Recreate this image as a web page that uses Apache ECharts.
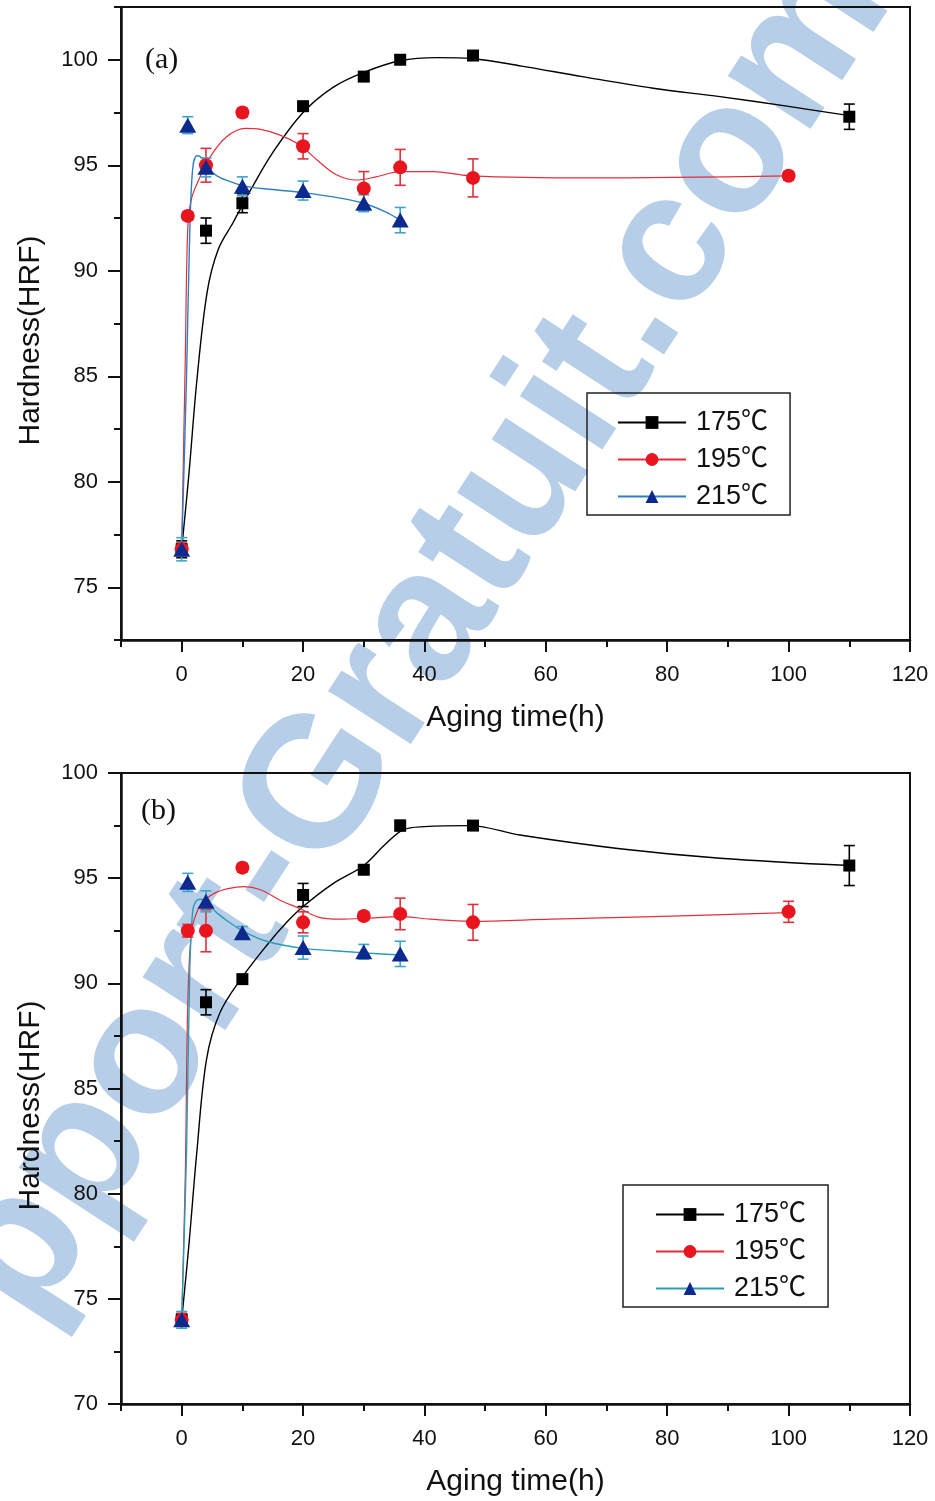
<!DOCTYPE html>
<html>
<head>
<meta charset="utf-8">
<script src="https://cdn.jsdelivr.net/npm/echarts@6/dist/echarts.min.js"></script>
<style>
  html, body { margin: 0; padding: 0; background: #fff; }
  #chart { width: 935px; height: 1501px; }
</style>
</head>
<body>
<div id="chart"></div>
<script>
// ---- Aging times (h) for each temperature ----
const time175 = [0, 4, 10, 20, 30, 36, 48, 110];
const time195 = [0, 1, 4, 10, 20, 30, 36, 48, 100];
const time215 = [0, 1, 4, 10, 20, 30, 36];

// ---- Panel (a): measured hardness (HRF) and error half-widths ----
const hard175a = [76.8, 91.9, 93.2, 97.8, 99.2, 100.0, 100.2, 97.3];
const err175a  = [0.4, 0.6, 0.45, 0.2, 0.2, 0.2, 0.15, 0.6];
const hard195a = [76.8, 92.6, 95.0, 97.5, 95.9, 93.9, 94.9, 94.4, 94.5];
const err195a  = [0.3, 0.2, 0.8, 0.2, 0.6, 0.8, 0.85, 0.9, 0.2];
const hard215a = [76.8, 96.9, 94.9, 94.0, 93.8, 93.2, 92.4];
const err215a  = [0.55, 0.4, 0.45, 0.45, 0.45, 0.4, 0.6];

// ---- Panel (b): measured hardness (HRF) and error half-widths ----
const hard175b = [74.0, 89.1, 90.2, 94.2, 95.4, 97.5, 97.5, 95.6];
const err175b  = [0.3, 0.6, 0.2, 0.55, 0.2, 0.25, 0.15, 0.95];
const hard195b = [74.0, 92.5, 92.5, 95.5, 92.9, 93.2, 93.3, 92.9, 93.4];
const err195b  = [0.3, 0.3, 1.0, 0.2, 0.5, 0.2, 0.75, 0.85, 0.5];
const hard215b = [74.0, 94.8, 93.9, 92.4, 91.7, 91.5, 91.4];
const err215b  = [0.4, 0.43, 0.5, 0.3, 0.55, 0.35, 0.6];

// ---- Fitted trend curves, [time, hardness] read at selected times ----
const trend175a = [[0,76.8],[1.2,80.4],[2.5,84.8],[4.2,89.0],[6,91.0],[8.5,92.3],[11.5,93.9],[15,95.6],[20,97.5],[25,98.7],[30,99.4],[36,99.95],[42,100.1],[48,100.05],[56,99.7],[66,99.2],[77.7,98.65],[88.7,98.25],[99.7,97.8],[110,97.35]];
const trend195a = [[0,76.8],[0.6,86.0],[1.0,92.0],[1.6,93.4],[2.8,94.3],[4.7,95.4],[7.4,96.35],[10.5,96.75],[13,96.7],[16,96.45],[19.5,95.95],[22.5,95.2],[25.5,94.55],[28.8,94.3],[32,94.45],[36,94.7],[41.4,94.7],[47.5,94.5],[66.7,94.4],[100,94.5]];
const trend215a = [[0,76.8],[0.8,85.0],[1.3,91.5],[1.8,94.8],[2.5,95.45],[3.3,95.35],[4.2,94.9],[5.8,94.5],[7.8,94.25],[10.5,94.0],[15,93.85],[20,93.7],[25,93.5],[30,93.2],[33.5,92.8],[36,92.4]];

const trend175b = [[0,74.0],[1.2,77.6],[2.5,82.0],[4.1,86.4],[6.3,88.6],[10,90.3],[14,91.8],[17.3,92.9],[20,93.65],[25,94.75],[30,95.6],[33.5,96.6],[36.5,97.3],[40,97.45],[47.5,97.5],[55.7,97.05],[72.2,96.4],[88.7,95.95],[110,95.6]];
const trend195b = [[0,74.0],[0.6,81.0],[1.0,89.0],[1.6,92.4],[2.6,93.45],[4,94.0],[5.5,94.3],[7.6,94.5],[10.2,94.6],[13,94.45],[16.2,93.95],[19.5,93.55],[22.5,93.15],[26,93.05],[31,93.1],[36,93.17],[41,93.05],[47.5,92.95],[61,93.05],[77.7,93.17],[100,93.36]];
const trend215b = [[0,74.0],[0.8,82.0],[1.3,90.2],[1.8,93.4],[2.5,93.95],[3.3,94.0],[4.2,93.8],[5.8,93.35],[7.6,92.95],[10,92.5],[14,92.0],[20,91.66],[25,91.55],[30,91.45],[36,91.35]];

// ---- Axis ticks ----
const xMajor = [0, 20, 40, 60, 80, 100, 120];
const xMinor = [-10, 10, 30, 50, 70, 90, 110];
const yMajorA = [75, 80, 85, 90, 95, 100];
const yMinorA = [72.5, 77.5, 82.5, 87.5, 92.5, 97.5, 102.5];
const yMajorB = [70, 75, 80, 85, 90, 95, 100];
const yMinorB = [72.5, 77.5, 82.5, 87.5, 92.5, 97.5];

const names = ['175℃', '195℃', '215℃'];
const SANS = "'Liberation Sans', Arial, 'Noto Sans CJK SC', sans-serif";
const INK = '#111';

const colors = {
  black: '#000000',
  red: '#e8141e',
  redLine: '#e0303c',
  navy: '#0c2a8e',
  blueLineA: '#2f7fc2',
  blueLineB: '#2b9cb8',
  blueErr: '#3aa6cc'
};

const panels = [
  { label: '(a)', top: 7, height: 633, yMin: 72.5, yMax: 102.5, yMajor: yMajorA, yMinor: yMinorA,
    h175: hard175a, e175: err175a, h195: hard195a, e195: err195a, h215: hard215a, e215: err215a,
    t175: trend175a, t195: trend195a, t215: trend215a, blueLine: colors.blueLineA,
    legend: { left: 587, top: 393, pad: [16, 22, 5, 30] } },
  { label: '(b)', top: 773, height: 631, yMin: 70, yMax: 100, yMajor: yMajorB, yMinor: yMinorB,
    h175: hard175b, e175: err175b, h195: hard195b, e195: err195b, h215: hard215b, e215: err215b,
    t175: trend175b, t195: trend195b, t215: trend215b, blueLine: colors.blueLineB,
    legend: { left: 623, top: 1185, pad: [16, 22, 5, 32] } }
];

const GRID_LEFT = 121, GRID_WIDTH = 789;

const grid = [], xAxis = [], yAxis = [], series = [], legend = [], graphic = [];

function pair(times, vals) { return times.map((t, i) => [t, vals[i]]); }

function errorBars(name, times, vals, errs, color, ai) {
  return {
    type: 'custom', name: name, xAxisIndex: ai, yAxisIndex: ai, z: 4,
    silent: true,
    data: times.map((t, i) => [t, vals[i] - errs[i], vals[i] + errs[i]]),
    encode: { x: 0, y: [1, 2] },
    renderItem: function (params, api) {
      const x = api.value(0);
      const lo = api.coord([x, api.value(1)]);
      const hi = api.coord([x, api.value(2)]);
      const w = 5.5;
      const style = { stroke: color, lineWidth: 1.6, fill: null };
      return {
        type: 'group',
        children: [
          { type: 'line', shape: { x1: lo[0], y1: lo[1], x2: hi[0], y2: hi[1] }, style: style },
          { type: 'line', shape: { x1: lo[0] - w, y1: lo[1], x2: lo[0] + w, y2: lo[1] }, style: style },
          { type: 'line', shape: { x1: hi[0] - w, y1: hi[1], x2: hi[0] + w, y2: hi[1] }, style: style }
        ]
      };
    }
  };
}

function trendLine(name, data, symbol, fill, stroke, width, ai) {
  return {
    type: 'line', name: name, xAxisIndex: ai, yAxisIndex: ai, z: 3,
    data: data, smooth: 0.35,
    showSymbol: false, symbol: symbol,
    itemStyle: { color: fill },
    lineStyle: { color: stroke, width: width },
    silent: true
  };
}

function markers(name, times, vals, symbol, size, color, ai) {
  return {
    type: 'scatter', name: name, xAxisIndex: ai, yAxisIndex: ai, z: 5,
    data: pair(times, vals), symbol: symbol, symbolSize: size,
    itemStyle: { color: color, opacity: 1 },
    silent: true
  };
}

panels.forEach((p, gi) => {
  grid.push({
    left: GRID_LEFT, top: p.top, width: GRID_WIDTH, height: p.height,
    show: true, borderColor: INK, borderWidth: 2, backgroundColor: 'transparent',
    outerBoundsMode: 'none'
  });
  const tickFont = { fontFamily: SANS, fontSize: 22, color: INK };
  // major x axis with labels
  xAxis.push({
    gridIndex: gi, type: 'value', position: 'bottom', min: -10, max: 120,
    axisLine: { show: true, onZero: false, lineStyle: { color: INK, width: 2.5 } },
    axisTick: { show: true, customValues: xMajor, length: 12, lineStyle: { color: INK, width: 2 } },
    axisLabel: { show: true, customValues: xMajor, margin: 24, ...tickFont },
    splitLine: { show: false }
  });
  // minor x ticks
  xAxis.push({
    gridIndex: gi, type: 'value', position: 'bottom', min: -10, max: 120,
    axisLine: { show: false, onZero: false },
    axisTick: { show: true, customValues: xMinor, length: 7, lineStyle: { color: INK, width: 2 } },
    axisLabel: { show: false },
    splitLine: { show: false }
  });
  yAxis.push({
    gridIndex: gi, type: 'value', position: 'left', min: p.yMin, max: p.yMax,
    axisLine: { show: true, onZero: false, lineStyle: { color: INK, width: 2.5 } },
    axisTick: { show: true, customValues: p.yMajor, length: 13, lineStyle: { color: INK, width: 2 } },
    axisLabel: { show: true, customValues: p.yMajor, margin: 23, ...tickFont },
    splitLine: { show: false }
  });
  yAxis.push({
    gridIndex: gi, type: 'value', position: 'left', min: p.yMin, max: p.yMax,
    axisLine: { show: false, onZero: false },
    axisTick: { show: true, customValues: p.yMinor, length: 7, lineStyle: { color: INK, width: 2 } },
    axisLabel: { show: false },
    splitLine: { show: false }
  });

  const ai = gi * 2;
  // trend curves first so the legend takes its icons from them
  series.push(trendLine(names[0], p.t175, 'rect', colors.black, colors.black, 1.4, ai));
  series.push(trendLine(names[1], p.t195, 'circle', colors.red, colors.redLine, 1.2, ai));
  series.push(trendLine(names[2], p.t215, 'triangle', colors.navy, p.blueLine, 1.4, ai));
  // error bars
  series.push(errorBars(names[0], time175, p.h175, p.e175, colors.black, ai));
  series.push(errorBars(names[1], time195, p.h195, p.e195, colors.redLine, ai));
  series.push(errorBars(names[2], time215, p.h215, p.e215, colors.blueErr, ai));
  // measured points
  series.push(markers(names[0], time175, p.h175, 'rect', 12, colors.black, ai));
  series.push(markers(names[1], time195, p.h195, 'circle', 14, colors.red, ai));
  series.push(markers(names[2], time215, p.h215, 'triangle', [17, 15], colors.navy, ai));

  legend.push({
    left: p.legend.left, top: p.legend.top, orient: 'vertical',
    data: [
      { name: names[0] },
      { name: names[1] },
      { name: names[2], lineStyle: { color: p.blueLine } }
    ],
    itemWidth: 68, itemHeight: 16, itemGap: 10,
    padding: p.legend.pad,
    borderColor: '#222', borderWidth: 1.5, borderRadius: 0,
    backgroundColor: 'rgba(255,255,255,0)',
    selectedMode: false,
    textStyle: { fontFamily: SANS, fontSize: 27, color: INK, padding: [0, 0, 0, 5] }
  });

  // panel tag
  graphic.push({
    type: 'text', left: gi === 0 ? 145 : 141, top: p.top + (gi === 0 ? 38 : 23), z: 10,
    style: { text: p.label, font: "30px 'Liberation Serif', 'Times New Roman', serif", fill: INK }
  });
  // axis titles
  graphic.push({
    type: 'text', x: 31, y: p.top + p.height / 2 + 17, rotation: Math.PI / 2, z: 10,
    style: { text: 'Hardness(HRF)', font: '30px ' + SANS, fill: INK, align: 'center', verticalAlign: 'middle' }
  });
  graphic.push({
    type: 'text', x: GRID_LEFT + GRID_WIDTH / 2, y: p.top + p.height + 78, z: 10,
    style: { text: 'Aging time(h)', font: '30px ' + SANS, fill: INK, align: 'center', verticalAlign: 'middle' }
  });
});

// site watermark running diagonally behind the plots
graphic.push({
  type: 'text', x: 420, y: 636, rotation: 57 * Math.PI / 180, z: -1, silent: true,
  style: {
    text: 'pport-Gratuit.com', font: "bold 186px 'Liberation Sans', Arial, sans-serif",
    fill: '#b6cee8', align: 'center', verticalAlign: 'middle'
  }
});

const chart = echarts.init(document.getElementById('chart'), null, { renderer: 'canvas' });
chart.setOption({
  backgroundColor: '#ffffff',
  animation: false,
  grid: grid,
  xAxis: xAxis,
  yAxis: yAxis,
  legend: legend,
  graphic: graphic,
  series: series
});
</script>
</body>
</html>
